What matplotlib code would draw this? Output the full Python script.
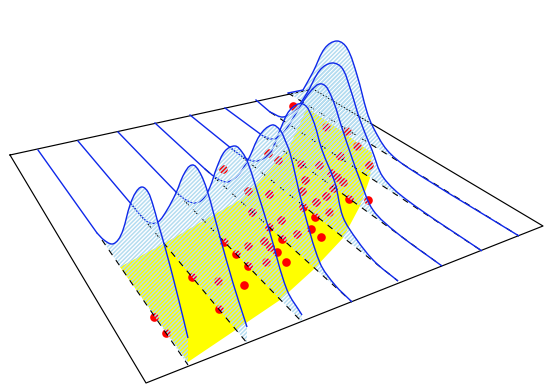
import numpy as np
import matplotlib
matplotlib.use('Agg')
import matplotlib.pyplot as plt
from matplotlib.path import Path
from matplotlib.patches import PathPatch, Polygon

# ground plane outline, read in picture coordinates
plane_x = [10, 146, 543, 313, 10]
plane_y = [155, 383, 226, 89, 155]

# region on the ground
region_x = [120, 165, 210, 240, 260, 288, 307, 340, 372, 370, 360, 343, 313, 280, 240, 188]
region_y = [267, 243, 217, 200, 180, 150, 108, 130, 153, 178, 206, 238, 270, 300, 327, 362]

# observations on the ground
point_x = [154, 166, 192, 218, 219, 224, 236, 248, 244, 248, 252, 264, 266, 269, 270,
           223, 268, 278, 301, 319, 331, 337, 343, 369, 269, 305, 302, 333, 326, 316,
           303, 329, 349, 368, 281, 315, 311, 297, 321, 282, 277, 286, 248, 293, 326,
           347, 357, 340]
point_y = [317, 333, 277, 281, 309, 242, 254, 266, 285, 191, 212, 241, 262, 227, 247,
           169, 153, 160, 164, 165, 173, 177, 182, 165, 194, 180, 191, 188, 196, 202,
           207, 212, 199, 200, 220, 217, 229, 234, 237, 239, 252, 262, 246, 106, 127,
           131, 146, 156]

# density slices, nearest first
curve1_x = [38, 97, 104, 112, 118, 123, 130, 136, 142, 148, 153, 158, 165, 177, 188]
curve1_y = [150, 233, 240, 244, 240, 230, 205, 192, 187, 192, 205, 223, 247, 293, 338]
curve2_x = [78, 132, 143, 150, 158, 167, 176, 184, 192, 199, 207, 220, 233, 247]
curve2_y = [141, 205, 218, 223, 222, 210, 193, 174, 165, 171, 190, 237, 283, 327]
curve3_x = [118, 176, 186, 195, 203, 210, 217, 225, 235, 242, 248, 260, 270, 287, 302]
curve3_y = [132, 192, 200, 203, 199, 187, 167, 151, 146, 152, 163, 200, 233, 290, 315]
curve4_x = [155, 205, 215, 227, 238, 248, 260, 272, 280, 285, 290, 303, 320, 335, 352]
curve4_y = [123, 169, 177, 182, 175, 160, 135, 125, 130, 140, 153, 207, 263, 285, 302]
curve5_x = [190, 232, 245, 257, 270, 280, 290, 303, 313, 322, 335, 343, 357, 375, 398]
curve5_y = [115, 149, 158, 161, 153, 130, 110, 104, 120, 150, 183, 217, 240, 262, 281]
curve6_x = [225, 263, 272, 280, 287, 295, 310, 322, 332, 342, 352, 360, 373, 397, 442]
curve6_y = [108, 136, 139, 136, 128, 115, 92, 84, 98, 128, 158, 180, 210, 233, 266]
curve7_x = [256, 270, 283, 295, 307, 320, 332, 342, 350, 360, 372, 383, 407, 482]
curve7_y = [100, 112, 117, 110, 93, 70, 63, 68, 88, 120, 150, 177, 200, 251]
curve8_x = [288, 303, 313, 325, 337, 347, 357, 367, 373, 387, 407, 519]
curve8_y = [93, 90, 72, 48, 41, 48, 75, 112, 127, 150, 167, 236]

curves_x = [curve1_x, curve2_x, curve3_x, curve4_x, curve5_x, curve6_x, curve7_x, curve8_x]
curves_y = [curve1_y, curve2_y, curve3_y, curve4_y, curve5_y, curve6_y, curve7_y, curve8_y]

# where each slice base leaves the curve and where it meets the front edge
base_start_x = [102, 132, 176, 205, 232, 263, 270, 288]
base_start_y = [240, 205, 192, 169, 149, 136, 112, 93]
base_end_x = [188, 247, 302, 352, 398, 442, 482, 519]
base_end_y = [365, 343, 322, 302, 281, 266, 251, 236]


def bezier_verts(x, y):
    # bezier segments through the read points, so the curves come out round
    pts = np.column_stack([x, y]).astype(float)
    verts = [pts[0]]
    codes = [Path.MOVETO]
    for i in range(len(pts) - 1):
        a = pts[max(i - 1, 0)]
        b = pts[i]
        c = pts[i + 1]
        d = pts[min(i + 2, len(pts) - 1)]
        span = np.hypot(*(c - b)) / 3
        t0 = (c - a) / np.hypot(*(c - a))
        t1 = (d - b) / np.hypot(*(d - b))
        verts += [b + t0 * span, c - t1 * span, c]
        codes += [Path.CURVE4] * 3
    return verts, codes


plt.rcParams['hatch.linewidth'] = 1.1

fig = plt.figure(figsize=(5.46, 3.89), dpi=100)
ax = fig.add_axes([0, 0, 1, 1])
ax.set_xlim(0, 546)
ax.set_ylim(389, 0)
ax.axis('off')

ax.plot(plane_x, plane_y, color='black', lw=0.85, zorder=1)
ax.add_patch(Polygon(np.column_stack([region_x, region_y]), closed=True,
                     facecolor='#ffff00', edgecolor='none', zorder=2))
ax.plot(point_x, point_y, 'o', color='#ff0000', ms=6.2, mec='none', zorder=3)

# far slices first, so the near ones veil them
z = 4
for i in range(7, -1, -1):
    verts, codes = bezier_verts(curves_x[i][1:], curves_y[i][1:])
    rib_verts = verts + [(base_end_x[i], base_end_y[i]),
                         (base_start_x[i], base_start_y[i]),
                         (base_start_x[i], base_start_y[i])]
    rib_codes = codes + [Path.LINETO, Path.LINETO, Path.CLOSEPOLY]
    ax.add_patch(PathPatch(Path(rib_verts, rib_codes), facecolor='none',
                           edgecolor='#b4dcf0', hatch='/' * 8, lw=0, zorder=z))
    ax.plot([base_start_x[i], base_end_x[i]], [base_start_y[i], base_end_y[i]],
            color='black', lw=0.8, linestyle=(0, (5.5, 5.5)), zorder=z + 0.1)
    ax.plot(curves_x[i][:2], curves_y[i][:2], color='#0f28ea', lw=1.0, zorder=z + 0.2)
    ax.add_patch(PathPatch(Path(verts, codes), facecolor='none',
                           edgecolor='#0f28ea', lw=1.0, zorder=z + 0.2))
    z += 1

fig.savefig('out.png', dpi=100)
